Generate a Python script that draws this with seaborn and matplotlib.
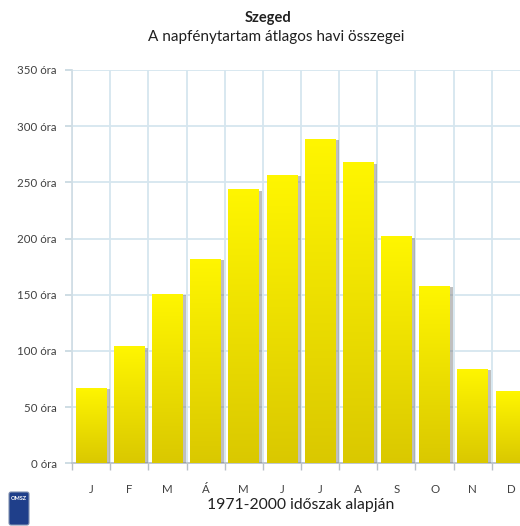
import numpy as np
import pandas as pd
import matplotlib
matplotlib.use("Agg")
import matplotlib.pyplot as plt
import matplotlib.patheffects as pe
from matplotlib.patches import FancyBboxPatch
import seaborn as sns

months = ["J", "F", "M", "Á", "M", "J", "J", "A", "S", "O", "N", "D"]
hours = [67, 104, 151, 182, 244, 257, 289, 268, 202, 158, 84, 64]
ytick_values = [0, 50, 100, 150, 200, 250, 300, 350]
ytick_labels = ["0 óra", "50 óra", "100 óra", "150 óra", "200 óra", "250 óra", "300 óra", "350 óra"]
title = "Szeged"
subtitle = "A napfénytartam átlagos havi összegei"
xlabel = "1971-2000 időszak alapján"

sns.set_theme(style="white")
plt.rcParams["font.family"] = ["Lato", "DejaVu Sans"]

df = pd.DataFrame({"idx": list(range(len(months))), "hours": hours})

fig = plt.figure(figsize=(5.2, 5.26), dpi=100)
ax = fig.add_axes([72 / 520, 62.7 / 526, 458 / 520, 393.3 / 526])

sns.barplot(data=df, x="idx", y="hours", color="#e8d800", width=0.8,
            saturation=1, ax=ax, zorder=3)

grad = np.linspace(0, 1, 256).reshape(-1, 1)
top_c = np.array([1.0, 0.965, 0.0])
bot_c = np.array([0.855, 0.785, 0.0])
img = (bot_c[None, None, :] * (1 - grad[:, :, None]) + top_c[None, None, :] * grad[:, :, None])

for p in ax.patches:
    p.set_edgecolor("none")
    p.set_path_effects([pe.SimplePatchShadow(offset=(2.5, -1), shadow_rgbFace="#808080", alpha=0.5),
                        pe.Normal()])
    x0 = p.get_x()
    w = p.get_width()
    h = p.get_height()
    im = ax.imshow(img, extent=[x0, x0 + w, 0, h], origin="lower", aspect="auto",
                   zorder=4, interpolation="bilinear")
    im.set_clip_path(p)

ax.set_xlim(-0.5, len(months) - 0.5)
ax.set_ylim(0, 350)
ax.set_yticks(ytick_values)
ax.set_yticklabels(ytick_labels)
ax.set_xticks(range(len(months)))
ax.set_xticklabels(months)
ax.set_xticks(np.arange(-0.5, len(months), 1.0), minor=True)

grid_c = "#d6e6ef"
ax.yaxis.grid(True, color=grid_c, lw=1.3, zorder=0)
ax.xaxis.grid(True, which="minor", color=grid_c, lw=1.3, zorder=0)
ax.xaxis.grid(False, which="major")
ax.set_axisbelow(True)

for s in ["top", "right"]:
    ax.spines[s].set_visible(False)
ax.spines["left"].set_color("#d0dde5")
ax.spines["bottom"].set_color("#b8c0c8")

ax.tick_params(axis="y", which="major", left=True, length=5, color="#c8d8e0",
               labelsize=8.3, labelcolor="#404040", pad=6)
ax.tick_params(axis="x", which="major", bottom=False, labelsize=8.3,
               labelcolor="#404040", pad=9)
ax.tick_params(axis="x", which="minor", bottom=True, length=5, color="#b8c0c8")

ax.set_xlabel("")
ax.set_ylabel("")

fig.text(268 / 520, 1 - 18 / 526, title, ha="center", va="center",
         fontsize=10.5, fontweight="bold", color="#202020")
fig.text(276 / 520, 1 - 37 / 526, subtitle, ha="center", va="center",
         fontsize=11, color="#202020")
fig.text(301 / 520, 1 - 505 / 526, xlabel, ha="center", va="center",
         fontsize=11.3, color="#202020")

# small logo
fig.patches.append(FancyBboxPatch((9 / 520, 1 - 525 / 526), 20 / 520, 33 / 526,
                                  boxstyle="round,pad=0,rounding_size=0.004",
                                  transform=fig.transFigure, facecolor="#1f3f8a",
                                  edgecolor="#8090b0", lw=0.8))
fig.text(19 / 520, 1 - 498 / 526, "OMSZ", ha="center", va="center", fontsize=4,
         color="white", fontweight="bold")

fig.savefig("out.png", dpi=100)
